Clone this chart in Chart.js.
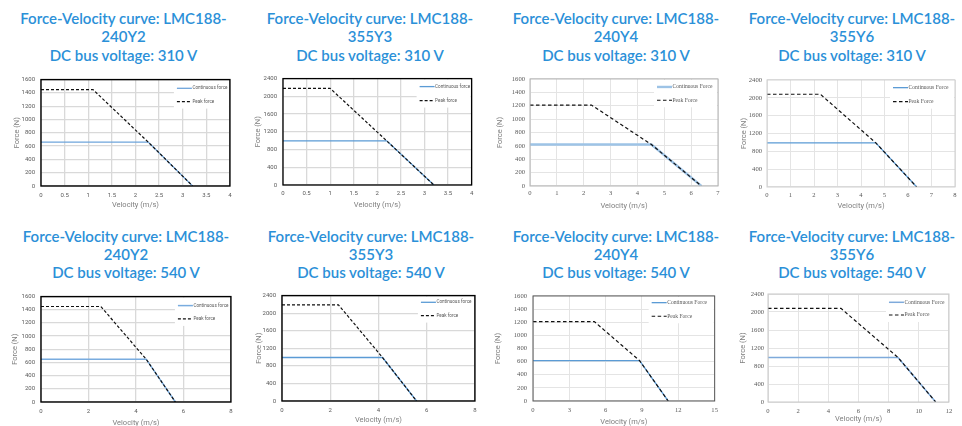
<!DOCTYPE html>
<html>
<head>
<meta charset="utf-8">
<script src="https://cdn.jsdelivr.net/npm/chart.js@4.4.0/dist/chart.umd.min.js"></script>
<style>
  html, body { margin: 0; padding: 0; background: #fff; width: 962px; height: 426px; overflow: hidden; }
  body { position: relative; }
  .title { position: absolute; width: 260px; text-align: center; color: #2b90d8; font-family: Lato, sans-serif; font-weight: 600; font-size: 15px; line-height: 18.3px; white-space: nowrap; }
  canvas { position: absolute; }
</style>
</head>
<body>
<script>
// ---- data ----
const models = ['240Y2', '355Y3', '240Y4', '355Y6', '240Y2', '355Y3', '240Y4', '355Y6'];
const busVoltages = [310, 310, 310, 310, 540, 540, 540, 540];
const contForce = [660, 995, 620, 990, 650, 990, 615, 990];
const contKneeVel = [2.27, 2.2, 4.52, 4.63, 4.43, 4.17, 8.8, 8.62];
const peakForce = [1450, 2180, 1210, 2080, 1450, 2190, 1210, 2080];
const peakKneeVel = [1.1, 1.0, 2.29, 2.27, 2.52, 2.34, 5.06, 4.84];
const maxVel = [3.21, 3.2, 6.38, 6.37, 5.66, 5.58, 11.16, 11.12];
const xMax = [4, 4, 7, 8, 8, 8, 15, 12];
const xStep = [0.5, 0.5, 1, 1, 2, 2, 3, 2];
const yMax = [1600, 2400, 1600, 2400, 1600, 2400, 1600, 2400];
const yStep = [200, 400, 200, 400, 200, 400, 200, 400];
const contLabels = ['Continuous force', 'Continuous force', 'Continuous Force', 'Continuous Force',
                    'Continuous force', 'Continuous force', 'Continuous Force', 'Continuous Force'];
const peakLabels = ['Peak force', 'Peak force', 'Peak Force', 'Peak Force',
                    'Peak force', 'Peak force', 'Peak Force', 'Peak Force'];
const xAxisTitle = 'Velocity (m/s)';
const yAxisTitle = 'Force (N)';

// ---- layout (pixels) ----
const panelPlot = [
  [41, 78, 231, 186], [283, 77, 472, 185], [530, 78, 718, 186], [767, 79, 955, 187],
  [41, 295, 232, 402], [282, 294, 476, 401], [533, 294, 717, 401], [768, 294, 952, 402]
];
const yTitleX = [16.7, 258.3, 500, 744, 15, 259, 498.3, 743.3];
const xTitleY = [205.5, 205, 205.7, 205.7, 423, 420, 421.7, 419.3];
const xLabelY = [195, 193.3, 193.3, 195, 411, 410, 410, 411.7];
const yLabelGap = [6, 6, 5, 5, 6, 6, 6, 4];
const legendOffset = [53, 52, 61, 62, 53, 54, 63, 60];
const legendRows = [[8.7, 22], [8, 22], [8, 21.3], [7.7, 21.7], [9, 22.3], [6.7, 20], [6.7, 20.3], [8.3, 21]];
const titleX = [123.5, 370, 616, 852, 126, 371, 616, 852];
const titleTop = [9, 226.5];

// ---- styles ----
const sansStyle = { font: 'Roboto', tickSize: 6, legendSize: 4.6, grid: '#d9d9d9', gridWidth: 1.3, dash: [3, 2] };
const serifStyle = { font: '"Liberation Serif"', tickSize: 6.6, legendSize: 5.6, grid: '#e4e4e4', gridWidth: 1, dash: [3.5, 2.5] };
const panelStyle = [sansStyle, sansStyle, serifStyle, serifStyle, sansStyle, sansStyle, serifStyle, serifStyle];
const frameColor = ['#000', '#000', '#b3b3b3', '#cfcfcf', '#000', '#000', '#555', '#c8c8c8'];
const frameWidth = [1.4, 1.3, 1, 1, 1.4, 1.4, 1, 1];
const contColor = ['#6fa5dc', '#5b9bd5', '#9dc3e6', '#5b9bd5', '#79acdf', '#5b9bd5', '#5b9bd5', '#7eaadb'];
const contWidth = [1.3, 1.3, 2.4, 1.3, 1.5, 1.3, 1.3, 1.5];

const overlay = {
  id: 'overlay',
  afterDatasetsDraw(chart, args, opts) {
    const { ctx, chartArea: a } = chart;
    const x0 = a.right - opts.offset;
    ctx.save();
    ctx.fillStyle = '#fff';
    ctx.fillRect(x0 - 3, a.top + 1, opts.offset + 2, opts.rows[1] + 6);
    chart.data.datasets.forEach((ds, k) => {
      const y = a.top + opts.rows[k];
      ctx.beginPath();
      ctx.strokeStyle = ds.borderColor;
      ctx.lineWidth = ds.borderWidth;
      ctx.setLineDash(ds.borderDash || []);
      ctx.moveTo(x0, y);
      ctx.lineTo(x0 + 15, y);
      ctx.stroke();
      ctx.setLineDash([]);
      ctx.fillStyle = '#595959';
      ctx.font = opts.size + 'px ' + opts.font;
      ctx.textBaseline = 'middle';
      ctx.fillText(ds.label, x0 + 15.5, y);
    });
    ctx.strokeStyle = opts.frameColor;
    ctx.lineWidth = opts.frameWidth;
    ctx.strokeRect(a.left, a.top, a.right - a.left, a.bottom - a.top);
    ctx.restore();
  }
};

models.forEach((model, i) => {
  const t = document.createElement('div');
  t.className = 'title';
  t.style.left = (titleX[i] - 130) + 'px';
  t.style.top = titleTop[i < 4 ? 0 : 1] + 'px';
  t.innerHTML = 'Force-Velocity curve: LMC188-<br>' + model + '<br>DC bus voltage: ' + busVoltages[i] + ' V';
  document.body.appendChild(t);
});

const titleSize = 7.5, titleLh = titleSize * 1.2;

models.forEach((model, i) => {
  const [l, tp, r, b] = panelPlot[i];
  const st = panelStyle[i];
  const cx = Math.round(yTitleX[i] - 7);
  const cy = tp - 8;
  const cw = Math.round(r + 6) - cx;
  const ch = Math.round(xTitleY[i] + 7) - cy;

  const canvas = document.createElement('canvas');
  canvas.width = cw;
  canvas.height = ch;
  canvas.style.left = cx + 'px';
  canvas.style.top = cy + 'px';
  document.body.appendChild(canvas);

  // continuous: flat then falling; peak: flat, falling to the continuous knee, then along the same line
  const contPts = [
    { x: 0, y: contForce[i] }, { x: contKneeVel[i], y: contForce[i] }, { x: maxVel[i], y: 0 }
  ];
  const peakPts = [
    { x: 0, y: peakForce[i] }, { x: peakKneeVel[i], y: peakForce[i] },
    { x: contKneeVel[i], y: contForce[i] }, { x: maxVel[i], y: 0 }
  ];

  new Chart(canvas.getContext('2d'), {
    type: 'scatter',
    data: {
      datasets: [
        { label: contLabels[i], data: contPts, showLine: true, borderColor: contColor[i], borderWidth: contWidth[i], pointRadius: 0, order: 1 },
        { label: peakLabels[i], data: peakPts, showLine: true, borderColor: '#111', borderWidth: 1.2, borderDash: st.dash, pointRadius: 0, order: 0 }
      ]
    },
    options: {
      responsive: false,
      animation: false,
      events: [],
      layout: { padding: { top: 8, right: cx + cw - r, left: 0, bottom: 0 } },
      plugins: {
        legend: { display: false },
        tooltip: { enabled: false },
        overlay: {
          offset: legendOffset[i], rows: legendRows[i], font: st.font, size: st.legendSize,
          frameColor: frameColor[i], frameWidth: frameWidth[i]
        }
      },
      scales: {
        x: {
          type: 'linear', min: 0, max: xMax[i],
          ticks: { stepSize: xStep[i], color: '#595959', font: { family: st.font, size: st.tickSize },
                   padding: xLabelY[i] - b - st.tickSize * 0.6, maxRotation: 0, autoSkip: false, callback: v => String(v) },
          grid: { color: st.grid, lineWidth: st.gridWidth, drawTicks: false },
          border: { display: false },
          title: { display: true, text: xAxisTitle, color: '#7f7f7f', font: { family: 'Roboto', size: titleSize },
                   padding: { top: 0, bottom: cy + ch - xTitleY[i] - titleLh / 2 } },
          afterFit: s => { s.height = cy + ch - b; }
        },
        y: {
          type: 'linear', min: 0, max: yMax[i],
          ticks: { stepSize: yStep[i], color: '#595959', font: { family: st.font, size: st.tickSize },
                   padding: yLabelGap[i], callback: v => String(v) },
          grid: { color: st.grid, lineWidth: st.gridWidth, drawTicks: false },
          border: { display: false },
          title: { display: true, text: yAxisTitle, color: '#7f7f7f', font: { family: 'Roboto', size: titleSize },
                   padding: { top: yTitleX[i] - cx - titleLh / 2, bottom: 0 } },
          afterFit: s => { s.width = l - cx; }
        }
      }
    },
    plugins: [overlay]
  });
});
</script>
</body>
</html>
